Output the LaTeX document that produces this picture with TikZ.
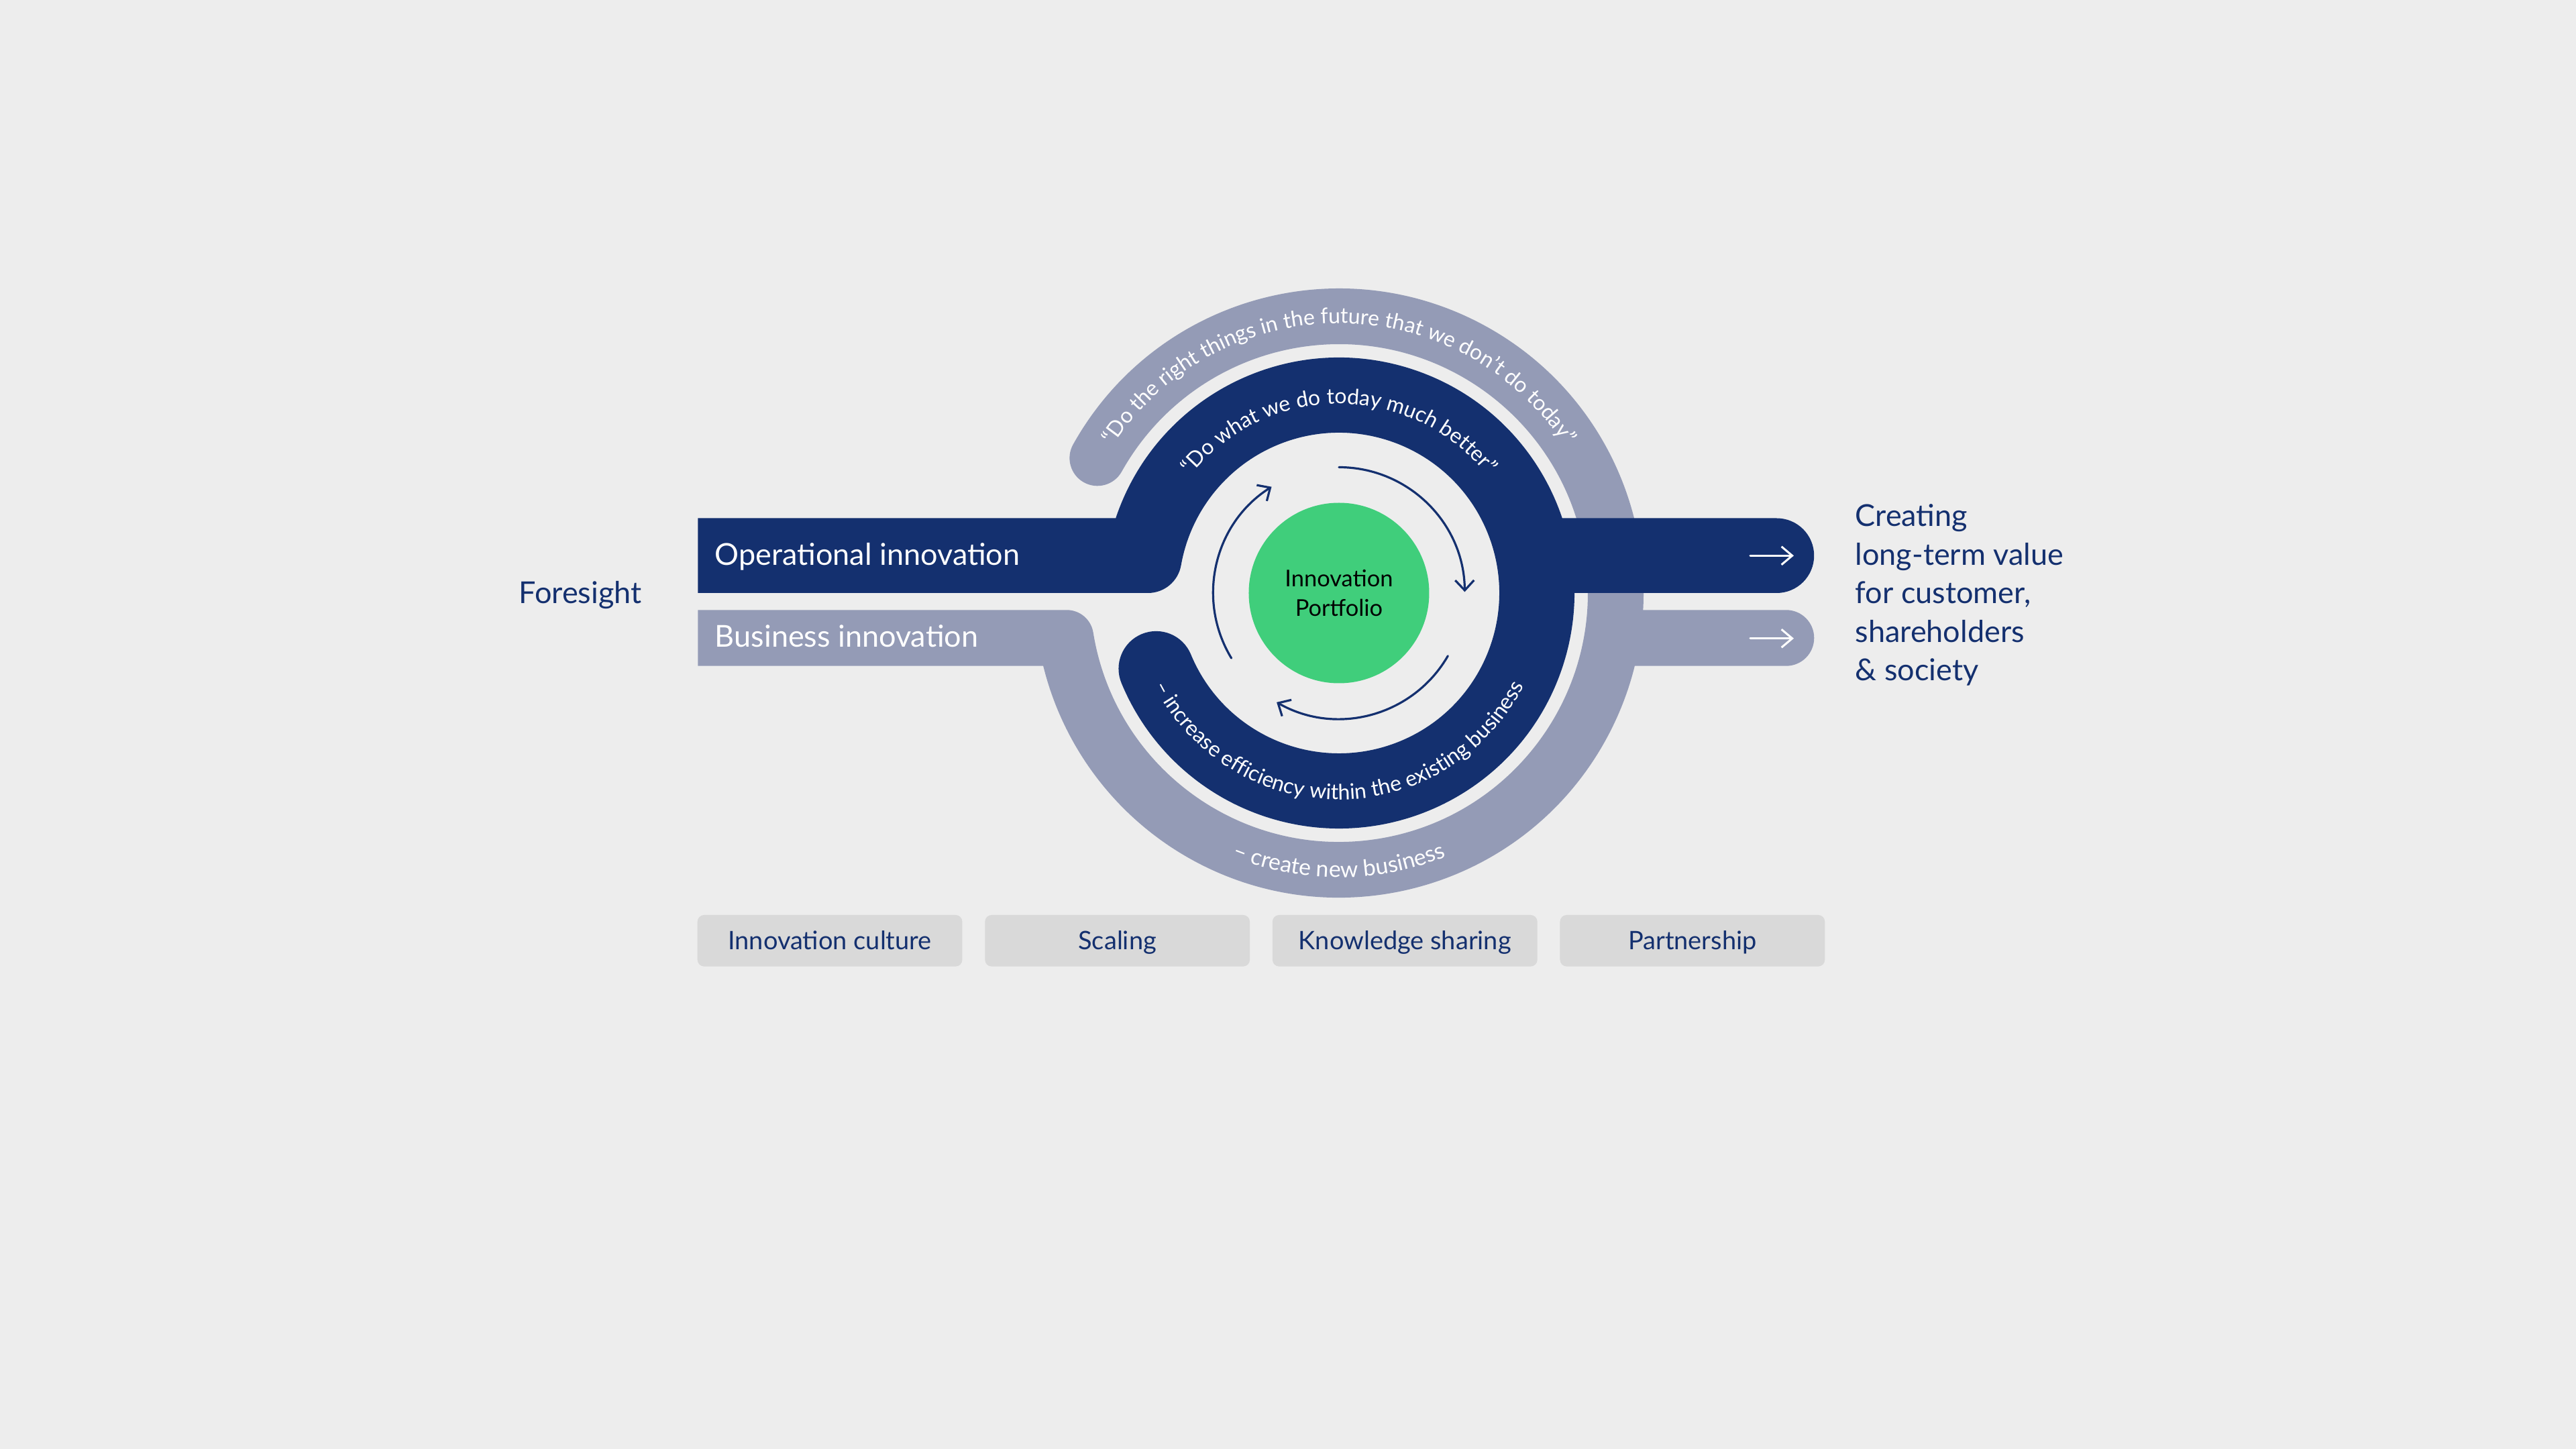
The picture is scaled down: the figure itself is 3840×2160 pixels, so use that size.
\documentclass[tikz,border=0pt]{standalone}
\usepackage{fontspec}
\setmainfont{Lato}
\usetikzlibrary{decorations.text,arrows.meta}
\definecolor{bg}{HTML}{EDEDED}
\definecolor{navy}{HTML}{14306F}
\definecolor{greyblue}{HTML}{949BB6}
\definecolor{leaf}{HTML}{40CE7B}
\definecolor{boxgrey}{HTML}{D9D9D9}
\newcommand\labelfont{\fontsize{12.8pt}{16.4pt}\selectfont}
\newcommand\boxfont{\fontsize{10.8pt}{13pt}\selectfont}
\newcommand\corefont{\fontsize{9.8pt}{12.43pt}\selectfont}
\newcommand\arcfont{\fontsize{9.1pt}{11pt}\selectfont}
\newcommand\arcfontb{\fontsize{9.6pt}{11pt}\selectfont}
\tikzset{
  label/.style={anchor=base west, inner sep=0pt, font=\labelfont},
  pillar/.style={fill=boxgrey, rounded corners=1mm, minimum width=39.48mm, minimum height=7.67mm,
    inner sep=0pt, text=navy, font=\boxfont, text height=2.72mm, text depth=0mm},
  cyclearrow/.style={draw=navy, line width=0.32mm, line cap=round, -{Straight Barb[length=1.5mm,width=2.8mm]}},
  bararrow/.style={draw=white, line width=0.3mm, line cap=round, -{Straight Barb[length=1.6mm,width=2.7mm]}},
  arctext/.style={decorate, decoration={text along path, text align=center, text color=white, text={|\arcfont|#1}}},
  arctextb/.style={decorate, decoration={text along path, text align=center, text color=white, text={|\arcfontb|#1}}}
}
\begin{document}
\begin{tikzpicture}[x=0.1mm,y=0.1mm]
\fill[bg] (-1996,-1276) rectangle (1844,884);
\useasboundingbox (-1996,-1276) rectangle (1844,884);

% grey ring with business innovation bar
\fill[greyblue] (-955.5,-25.3) -- (-405.8,-25.3)
  arc[start angle=90,end angle=9.2,radius=40]
  arc[start angle=-170.87,end angle=150.8,radius=371]
  arc[start angle=330.8,end angle=150.8,radius=41.5]
  arc[start angle=150.8,end angle=-166.15,radius=454]
  -- (-955.5,-108.7) -- cycle;
\fill[greyblue] (400,-25.3) -- (666.6,-25.3) arc[start angle=90,end angle=-90,radius=41.7] -- (400,-108.7) -- cycle;

% dark ring with operational innovation bar
\fill[navy] (-955.5,111.5) -- (-332.8,111.5)
  arc[start angle=161.48,end angle=-157.5,radius=351]
  arc[start angle=-157.5,end angle=-337.5,radius=56]
  arc[start angle=-157.5,end angle=170.05,radius=239]
  arc[start angle=-10.03,end angle=-90,radius=50]
  -- (-955.5,0) -- cycle;
\fill[navy] (300,0) -- (652.5,0) arc[start angle=-90,end angle=90,radius=55.75] -- (300,111.5) -- cycle;

% arc texts
\path[arctext={“Do what we do today much better”}] (180:282) arc[start angle=180,end angle=0,radius=282];
\path[arctext={“Do the right things in the future that we don’t do today”}] (180:402) arc[start angle=180,end angle=0,radius=402];
\path[arctext={– increase efficiency within the existing business}] (180:308) arc[start angle=180,end angle=360,radius=308];
\path[arctextb={– create new business}] (180:424) arc[start angle=180,end angle=360,radius=424];

% core
\node[circle, fill=leaf, minimum size=26.9mm, inner sep=0pt, align=center, font=\corefont, text=black] (core) at (0,0) {Innovation\\Portfolio};

% cycle arrows
\draw[cyclearrow] (90:187.5) arc[start angle=90,end angle=0.5,radius=187.5];
\draw[cyclearrow] (-30:187.5) arc[start angle=-30,end angle=-119.7,radius=187.5];
\draw[cyclearrow] (211.2:187.5) arc[start angle=211.2,end angle=122.4,radius=187.5];

% bar arrows
\coordinate (oa1) at (613,55.7); \coordinate (oa2) at (678,55.7);
\coordinate (ba1) at (613,-67.7); \coordinate (ba2) at (678,-67.7);
\draw[bararrow] (oa1) -- (oa2);
\draw[bararrow] (ba1) -- (ba2);

% labels
\node[label, text=white] (opi) at (-930.7,41.3) {Operational innovation};
\node[label, text=white] (bui) at (-930.7,-81) {Business innovation};
\node[label, text=navy] (fore) at (-1223,-16) {Foresight};
\node[label, text=navy] (r1) at (769,99) {Creating};
\node[label, text=navy] (r2) at (769,41.7) {long-term value};
\node[label, text=navy] (r3) at (769,-16) {for customer,};
\node[label, text=navy] (r4) at (769,-73.3) {shareholders};
\node[label, text=navy] (r5) at (769,-131) {\& society};

% pillars
\node[pillar] (p1) at (-758.9,-518.3) {Innovation culture};
\node[pillar] (p2) at (-330.3,-518.3) {Scaling};
\node[pillar] (p3) at (98.3,-518.3) {Knowledge sharing};
\node[pillar] (p4) at (526.9,-518.3) {Partnership};
\end{tikzpicture}
\end{document}
